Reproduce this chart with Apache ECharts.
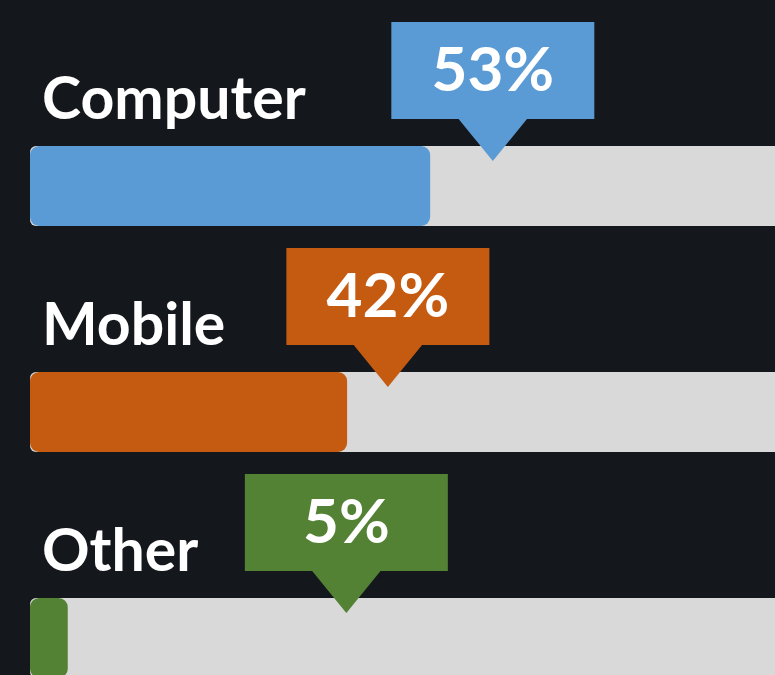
<!DOCTYPE html>
<html>
<head>
<meta charset="utf-8">
<script src="https://cdn.jsdelivr.net/npm/echarts@6/dist/echarts.min.js"></script>
<style>
	html, body { margin:0; padding:0; background:#14171c; overflow:hidden; }
	/* canvas is a bit larger than the window: the bars run past the right and bottom edges */
	#app { width:790px; height:760px; }
</style>
</head>
<body>
<div id="app"></div>
<script>
	// device share
	var categories = ['Computer', 'Mobile', 'Other'];
	var shares = [53, 42, 5];
	var percentLabels = ['53%', '42%', '5%'];
	// where each callout points on the 0-100 scale
	var calloutAt = [61.3, 47.4, 41.9];
	var colors = ['#5b9bd5', '#c55a11', '#548235'];

	var chart = echarts.init(document.getElementById('app'));

	var calloutData = [];
	for (var i = 0, len = categories.length; i < len; i++) {
		calloutData.push([i, calloutAt[i], i]);
	}

	function renderCallout(params, api) {
		var idx = api.value(2);
		var p = api.coord([api.value(1), api.value(0)]);
		var barTop = p[1] - 40;
		var boxBottom = barTop - 27;
		var left = params.coordSys.x;
		return {
			type: 'group',
			children: [
				{
					type: 'text',
					style: {
						x: left + 12, y: barTop - 46,
						text: categories[idx],
						fill: '#ffffff',
						font: 'bold 59px Lato',
						verticalAlign: 'middle',
						align: 'left'
					}
				},
				{
					type: 'rect',
					shape: { x: p[0] - 101.5, y: boxBottom - 97, width: 203, height: 97 },
					style: { fill: colors[idx] }
				},
				{
					type: 'polygon',
					shape: { points: [[p[0] - 35, boxBottom - 1], [p[0] + 35, boxBottom - 1], [p[0], boxBottom + 42]] },
					style: { fill: colors[idx] }
				},
				{
					type: 'text',
					style: {
						x: p[0], y: boxBottom - 48.5,
						text: percentLabels[idx],
						fill: '#ffffff',
						font: 'bold 62px Lato',
						align: 'center',
						verticalAlign: 'middle'
					}
				}
			]
		};
	}

	chart.setOption({
		backgroundColor: '#14171c',
		animation: false,
		grid: { left: 30, right: 5, top: 73, bottom: 9 },
		xAxis: {
			type: 'value', min: 0, max: 100,
			show: false
		},
		yAxis: {
			type: 'category',
			data: categories,
			inverse: true,
			show: false
		},
		series: [
			{
				type: 'bar',
				barWidth: 80,
				data: shares.map(function (v, i) {
					return { value: v, itemStyle: { color: colors[i] } };
				}),
				itemStyle: { borderRadius: 9 },
				showBackground: true,
				backgroundStyle: { color: '#d9d9d9', borderRadius: 6 },
				z: 2
			},
			{
				type: 'custom',
				renderItem: renderCallout,
				data: calloutData,
				encode: { x: 1, y: 0 },
				z: 5
			}
		]
	});
</script>
</body>
</html>
